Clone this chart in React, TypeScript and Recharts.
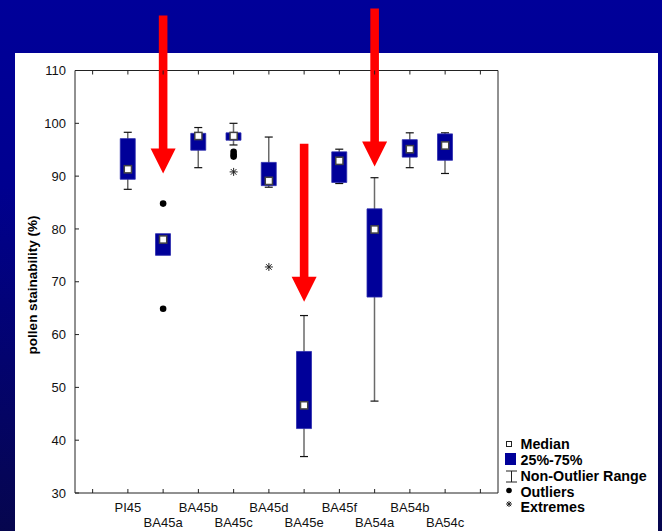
import { ComposedChart, Bar, Line, XAxis, YAxis, ReferenceDot } from "recharts";

const categories = ["PI45", "BA45a", "BA45b", "BA45c", "BA45d", "BA45e", "BA45f", "BA54a", "BA54b", "BA54c"];
const medians = [91.3, 78.0, 97.6, 97.6, 89.1, 46.6, 92.9, 79.9, 95.1, 95.8];
const q1s = [89.4, 75.0, 94.9, 96.8, 88.2, 42.2, 88.8, 67.1, 93.6, 93.0];
const q3s = [97.1, 79.1, 98.1, 98.2, 92.6, 56.8, 94.6, 83.8, 96.9, 98.0];
const whiskerLows = [87.5, null, 91.6, 95.9, 87.9, 36.9, 88.6, 47.4, 91.6, 90.5];
const whiskerHighs = [98.3, null, 99.2, 100.0, 97.4, 63.6, 95.1, 89.7, 98.2, 98.2];
const outliers = [[], [84.8, 64.9], [], [94.6, 94.1, 93.7], [], [], [], [], [], []];
const extremes = [[], [], [], [90.8], [72.8], [], [], [], [], []];
const yTicks = [30, 40, 50, 60, 70, 80, 90, 100, 110];
const arrows = [
  { category: "BA45a", value: 90.5 },
  { category: "BA45e", value: 66.2 },
  { category: "BA54a", value: 91.8 },
];

const FONT = "'Liberation Sans', Arial, Helvetica, sans-serif";
const BOX = "#000099";

// empty slots at both ends of the axis, like the original
const rows = [
  { name: "_padL" },
  ...categories.map((name, i) => ({
    name,
    box: [q1s[i], q3s[i]],
    whisker: whiskerLows[i] == null ? null : [whiskerLows[i], whiskerHighs[i]],
    median: medians[i],
    out0: outliers[i][0] ?? null,
    out1: outliers[i][1] ?? null,
    out2: outliers[i][2] ?? null,
    ext0: extremes[i][0] ?? null,
  })),
  { name: "_padR" },
];

const WhiskerShape = (props: any) => {
  const { x, y, width, height, payload } = props;
  if (!payload || payload.whisker == null || x == null || y == null) return <g />;
  const cx = x + width / 2;
  const top = Math.min(y, y + height);
  const bottom = Math.max(y, y + height);
  return (
    <g>
      <line x1={cx} x2={cx} y1={top} y2={bottom} stroke="#6a6a6a" strokeWidth={1.5} />
      <line x1={cx - 4} x2={cx + 4} y1={top} y2={top} stroke="#111" strokeWidth={1.2} />
      <line x1={cx - 4} x2={cx + 4} y1={bottom} y2={bottom} stroke="#111" strokeWidth={1.2} />
    </g>
  );
};

const medianDot = (props: any) => {
  const { cx, cy, value, index } = props;
  if (cx == null || cy == null || value == null) return <g key={`m${index}`} />;
  return (
    <rect key={`m${index}`} x={cx - 3.6} y={cy - 3.6} width={7.2} height={7.2} fill="#fff" stroke="#444" strokeWidth={1.5} />
  );
};

const outlierDot = (props: any) => {
  const { cx, cy, value, index, dataKey } = props;
  if (cx == null || cy == null || value == null) return <g key={`${dataKey}${index}`} />;
  return <circle key={`${dataKey}${index}`} cx={cx} cy={cy} r={3.3} fill="#000" />;
};

const Asterisk = ({ cx, cy, r }: { cx: number; cy: number; r: number }) => {
  const d = r * 0.707;
  return (
    <g stroke="#222" strokeWidth={1}>
      <line x1={cx} x2={cx} y1={cy - r} y2={cy + r} />
      <line x1={cx - r} x2={cx + r} y1={cy} y2={cy} />
      <line x1={cx - d} x2={cx + d} y1={cy - d} y2={cy + d} />
      <line x1={cx - d} x2={cx + d} y1={cy + d} y2={cy - d} />
    </g>
  );
};

const extremeDot = (props: any) => {
  const { cx, cy, value, index } = props;
  if (cx == null || cy == null || value == null) return <g key={`e${index}`} />;
  return (
    <g key={`e${index}`}>
      <Asterisk cx={cx} cy={cy} r={4} />
    </g>
  );
};

const ArrowShape = (props: any) => {
  const { cx, cy } = props;
  const len = 158;
  const head = 25;
  const hw = 12.5;
  const sw = 4.3;
  const pts = [
    [cx, cy],
    [cx - hw, cy - head],
    [cx - sw, cy - head],
    [cx - sw, cy - len],
    [cx + sw, cy - len],
    [cx + sw, cy - head],
    [cx + hw, cy - head],
  ]
    .map((p) => p.join(","))
    .join(" ");
  return <polygon points={pts} fill="#ff0000" />;
};

const BottomTick = (props: any) => {
  const { x, y, payload } = props;
  const i = categories.indexOf(payload.value);
  return (
    <g>
      <line x1={x} x2={x} y1={y} y2={y - 4} stroke="#222" />
      {i >= 0 && (
        <text x={x} y={y + (i % 2 === 0 ? 19.3 : 34.3)} textAnchor="middle" fontSize={13} fontFamily={FONT} fill="#111">
          {payload.value}
        </text>
      )}
    </g>
  );
};

const TopTick = (props: any) => {
  const { x, y } = props;
  return <line x1={x} x2={x} y1={y} y2={y + 4} stroke="#222" />;
};

const LeftTick = (props: any) => {
  const { x, y, payload } = props;
  return (
    <g>
      <line x1={x} x2={x + 4} y1={y} y2={y} stroke="#222" />
      <text x={x - 9} y={y} dy={4.6} textAnchor="end" fontSize={13} fontFamily={FONT} fill="#111">
        {payload.value}
      </text>
    </g>
  );
};

const RightTick = (props: any) => {
  const { x, y } = props;
  return <line x1={x} x2={x - 4} y1={y} y2={y} stroke="#222" />;
};

const legendItems = ["Median", "25%-75%", "Non-Outlier Range", "Outliers", "Extremes"];

const LegendBox = () => (
  <svg width={662} height={531} style={{ position: "absolute", left: 0, top: 0, pointerEvents: "none" }}>
    <rect x={506.5} y={441.5} width={5} height={5} fill="#fff" stroke="#222" strokeWidth={1} />
    <rect x={505} y={453} width={11} height={12} fill={BOX} />
    <line x1={511.5} x2={511.5} y1={471} y2={482} stroke="#222" strokeWidth={1} />
    <line x1={506} x2={517} y1={471} y2={471} stroke="#222" strokeWidth={1} />
    <line x1={506} x2={517} y1={482} y2={482} stroke="#222" strokeWidth={1} />
    <circle cx={509} cy={490.5} r={2.8} fill="#000" />
    <Asterisk cx={509} cy={504} r={3} />
    {legendItems.map((t, i) => (
      <text key={t} x={520.5} y={448.8 + i * 15.9} fontSize={14.3} fontWeight="bold" fontFamily={FONT} fill="#000">
        {t}
      </text>
    ))}
  </svg>
);

export default function App() {
  return (
    <div
      style={{
        position: "absolute",
        left: 0,
        top: 0,
        width: 662,
        height: 531,
        overflow: "hidden",
        background: "linear-gradient(to bottom, #000099 0%, #00008f 35%, #06064e 100%)",
        fontFamily: FONT,
      }}
    >
      <div style={{ position: "absolute", left: 15, top: 53, width: 643, height: 478, background: "#fff" }} />
      <div style={{ position: "absolute", left: 0, top: 0 }}>
        <ComposedChart
          width={662}
          height={531}
          data={rows}
          margin={{ top: 60.5, right: 154, bottom: 8, left: 35 }}
          barGap={-15}
        >
          <XAxis
            dataKey="name"
            type="category"
            scale="band"
            interval={0}
            height={30}
            axisLine={{ stroke: "#222" }}
            tickLine={false}
            tickSize={0}
            tickMargin={0}
            tick={<BottomTick />}
          />
          <XAxis
            xAxisId="t"
            orientation="top"
            dataKey="name"
            type="category"
            scale="band"
            interval={0}
            height={10}
            axisLine={{ stroke: "#222" }}
            tickLine={false}
            tickSize={0}
            tickMargin={0}
            tick={<TopTick />}
          />
          <YAxis
            type="number"
            domain={[30, 110]}
            ticks={yTicks}
            interval={0}
            width={40}
            axisLine={{ stroke: "#222" }}
            tickLine={false}
            tickSize={0}
            tickMargin={0}
            tick={<LeftTick />}
            label={() => (
              <text
                x={32}
                y={285}
                transform="rotate(-90 32 285)"
                textAnchor="middle"
                dominantBaseline="central"
                fontSize={13.5}
                fontWeight="bold"
                fontFamily={FONT}
                fill="#000"
              >
                pollen stainability (%)
              </text>
            )}
          />
          <YAxis
            yAxisId="r"
            orientation="right"
            type="number"
            domain={[30, 110]}
            ticks={yTicks}
            interval={0}
            width={10}
            axisLine={{ stroke: "#222" }}
            tickLine={false}
            tickSize={0}
            tickMargin={0}
            tick={<RightTick />}
          />
          <Bar dataKey="whisker" barSize={15} shape={<WhiskerShape />} isAnimationActive={false} />
          <Bar dataKey="box" barSize={15} fill={BOX} stroke="#2c2cad" strokeWidth={0.8} isAnimationActive={false} />
          <Line dataKey="out0" stroke="none" dot={outlierDot} activeDot={false} isAnimationActive={false} />
          <Line dataKey="out1" stroke="none" dot={outlierDot} activeDot={false} isAnimationActive={false} />
          <Line dataKey="out2" stroke="none" dot={outlierDot} activeDot={false} isAnimationActive={false} />
          <Line dataKey="ext0" stroke="none" dot={extremeDot} activeDot={false} isAnimationActive={false} />
          <Line dataKey="median" stroke="none" dot={medianDot} activeDot={false} isAnimationActive={false} />
          {arrows.map((a) => (
            <ReferenceDot key={a.category} x={a.category} y={a.value} ifOverflow="visible" shape={ArrowShape} />
          ))}
        </ComposedChart>
      </div>
      <LegendBox />
    </div>
  );
}
